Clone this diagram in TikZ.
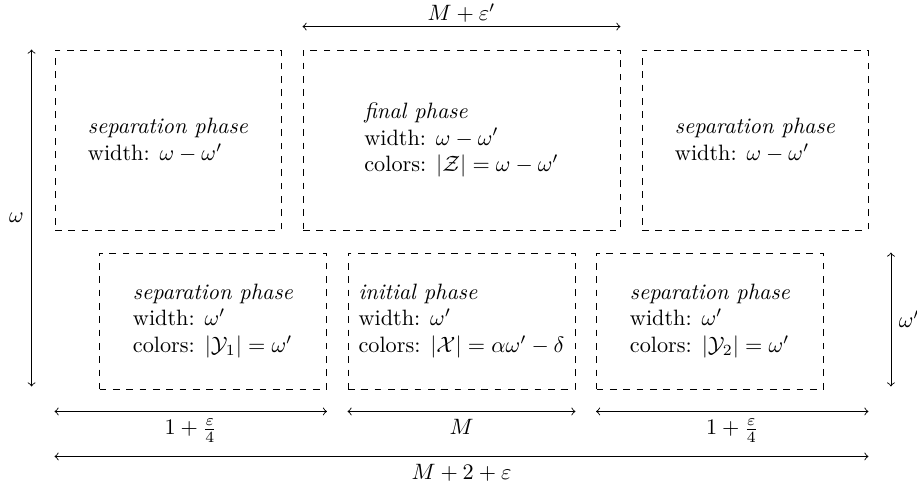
\documentclass[tikz,border=0pt]{standalone}
\usetikzlibrary{calc}
\def\u{0.45pt}
\begin{document}
\begin{tikzpicture}[x=\u,y=-\u,
    phasebox/.style={draw, dashed, align=left},
    topbox/.style={phasebox, minimum height=180*\u},
    lowbox/.style={phasebox, minimum width=227*\u, minimum height=136*\u}]
\useasboundingbox (0,0) rectangle (917,488);

% upper row
\node[topbox, minimum width=226*\u] (sepL) at (168,140) {\textit{separation phase}\\width: $\omega-\omega'$};
\node[topbox, minimum width=317*\u] (fin) at (461.5,140) {\textit{final phase}\\width: $\omega-\omega'$\\colors: $|\mathcal{Z}|=\omega-\omega'$};
\node[topbox, minimum width=226*\u] (sepR) at (755,140) {\textit{separation phase}\\width: $\omega-\omega'$};

% lower row
\node[lowbox] (sepBL) at (213,321) {\textit{separation phase}\\width: $\omega'$\\colors: $|\mathcal{Y}_1|=\omega'$};
\node[lowbox] (init) at (461.5,321) {\textit{initial phase}\\width: $\omega'$\\colors: $|\mathcal{X}|=\alpha\omega'-\delta$};
\node[lowbox] (sepBR) at (710,321) {\textit{separation phase}\\width: $\omega'$\\colors: $|\mathcal{Y}_2|=\omega'$};

% widths and heights
\draw[<->]($(fin.north west)+(0,-23)$)--($(fin.north east)+(0,-23)$)node[midway,above,inner sep=1.5pt]{$M+\varepsilon'$};
\draw[<->]($(sepL.north west)+(-23,0)$)--($(sepL.west|-sepBL.south)+(-23,-3)$)node[midway,left]{$\omega$};
\draw[<->]($(sepBR.north east)+(67,0)$)--($(sepBR.south east)+(67,-3)$)node[midway,right]{$\omega'$};

\draw[<->]($(sepL.west|-sepBL.south)+(0,22)$)--($(sepBL.south east)+(0,22)$)node[midway,below]{$1+\frac{\varepsilon}{4}$};
\draw[<->]($(init.south west)+(0,22)$)--($(init.south east)+(0,22)$)node[midway,below]{$M$};
\draw[<->]($(sepBR.south west)+(0,22)$)--($(sepR.east|-sepBR.south)+(0,22)$)node[midway,below]{$1+\frac{\varepsilon}{4}$};
\draw[<->]($(sepL.west|-sepBL.south)+(0,67)$)--($(sepR.east|-sepBR.south)+(0,67)$)node[midway,below]{$M+2+\varepsilon$};

\end{tikzpicture}
\end{document}
